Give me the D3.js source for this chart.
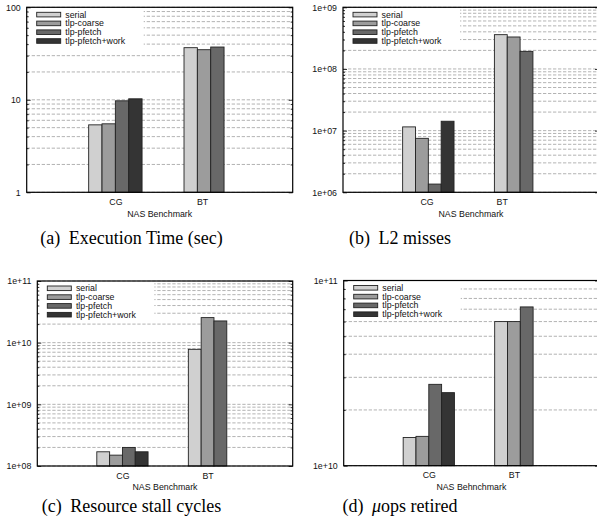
<!DOCTYPE html>
<html>
<head>
<meta charset="utf-8">
<script src="https://cdn.jsdelivr.net/npm/d3@7"></script>
<style>
body{margin:0;background:#fff;}
svg text{font-family:"Liberation Sans",Arial,sans-serif;}
.caption{font-family:"Liberation Serif","Times New Roman",serif;font-size:18px;fill:#000;}
</style>
</head>
<body>
<svg id="fig" width="597" height="531"></svg>
<script>
//categories and series
var benchmarks = ["CG","BT"];
var seriesNames = ["serial","tlp-coarse","tlp-pfetch","tlp-pfetch+work"];

//(a) execution time in seconds, one value per series (BT has no +work run)
var execTimeCG = [5.36, 5.5, 9.75, 10.25];
var execTimeBT = [36.6, 34.8, 37.2, null];
//(b) L2 misses
var l2MissCG = [1.15e7, 7.5e6, 1.36e6, 1.42e7];
var l2MissBT = [3.6e8, 3.3e8, 1.93e8, null];
//(c) resource stall cycles
var stallCG = [1.7e8, 1.5e8, 2.0e8, 1.7e8];
var stallBT = [7.8e9, 2.55e10, 2.25e10, null];
//(d) uops retired
var uopsCG = [1.42e10, 1.44e10, 2.75e10, 2.48e10];
var uopsBT = [6.0e10, 6.0e10, 7.2e10, null];

//y axis ranges and labels
var execDomain = [1, 100];
var l2Domain = [1e6, 1e9];
var stallDomain = [1e8, 1e11];
var uopsDomain = [1e10, 1e11];

var xTitles = ["NAS Benchmark","NAS Benchmark","NAS Benchmark","NAS Behnchmark"];
var captionTags = ["(a)","(b)","(c)","(d)"];
var captionTexts = ["Execution Time (sec)","L2 misses","Resource stall cycles","ops retired"];

var colors = ["#d0d0d0","#9c9c9c","#686868","#343434"];

var svg = d3.select("#fig");
svg.append("rect").attr("width",597).attr("height",531).attr("fill","#fff");

//format a decade tick the gnuplot way
var expFormat = function(d)
{
    var e = Math.round(Math.log10(d));
    return "1e+" + (e < 10 ? "0" + e : e);
}
var plainFormat = function(d)
{
    return d3.format("d")(d);
}

//layout of one panel
//box = plot area, labelPos = where the category names sit (cluster units)
var drawPanel = function(box, yDomain, rows, fmt, labelPos, xTitle)
{
    var bw = 0.14;
    var xScale = d3.scaleLinear()
        .domain([-0.93, 1.86])
        .range([box.left, box.right]);
    var yScale = d3.scaleLog()
        .domain(yDomain)
        .range([box.bottom, box.top]);

    var panel = svg.append("g");

    var allTicks = yScale.ticks();
    var majors = allTicks.filter(function(d){ return Math.abs(Math.log10(d) - Math.round(Math.log10(d))) < 1e-9; });
    var minors = allTicks.filter(function(d){ return majors.indexOf(d) < 0; });

    //dashed grid at every tick
    panel.append("g")
         .selectAll("line")
         .data(allTicks)
         .enter()
         .append("line")
         .attr("x1", box.left)
         .attr("x2", box.right)
         .attr("y1", function(d){ return yScale(d); })
         .attr("y2", function(d){ return yScale(d); })
         .attr("stroke", "#9f9f9f")
         .attr("stroke-width", 0.8)
         .attr("stroke-dasharray", "3.3,1.7");

    //legend box hides the grid behind it
    panel.append("rect")
         .attr("x", box.left + 1)
         .attr("y", box.top + 1)
         .attr("width", 116)
         .attr("height", 38)
         .attr("fill", "#fff");

    //bars
    rows.forEach(function(vals, i)
    {
        panel.append("g")
             .selectAll("rect")
             .data(vals.map(function(v, j){ return {v:v, j:j}; })
                       .filter(function(d){ return d.v != null; }))
             .enter()
             .append("rect")
             .attr("x", function(d){ return xScale(i + (d.j - 2) * bw); })
             .attr("y", function(d){ return yScale(d.v); })
             .attr("width", xScale(bw) - xScale(0))
             .attr("height", function(d){ return box.bottom - yScale(d.v); })
             .attr("fill", function(d){ return colors[d.j]; })
             .attr("stroke", "#222")
             .attr("stroke-width", 0.9);
    });

    //frame
    panel.append("rect")
         .attr("x", box.left)
         .attr("y", box.top)
         .attr("width", box.right - box.left)
         .attr("height", box.bottom - box.top)
         .attr("fill", "none")
         .attr("stroke", "#000")
         .attr("stroke-width", 1.2);

    //left axis: labels and inward ticks
    var yAxis = d3.axisLeft(yScale)
        .tickValues(majors)
        .tickFormat(fmt)
        .tickSize(-4)
        .tickPadding(6);
    var gl = panel.append("g")
         .attr("transform", "translate(" + box.left + ",0)")
         .call(yAxis);
    var yMinor = d3.axisLeft(yScale)
        .tickValues(minors)
        .tickFormat("")
        .tickSize(-2);
    panel.append("g")
         .attr("transform", "translate(" + box.left + ",0)")
         .call(yMinor);

    //mirror ticks on the right
    panel.append("g")
         .attr("transform", "translate(" + box.right + ",0)")
         .call(d3.axisRight(yScale).tickValues(majors).tickFormat("").tickSize(-4));
    panel.append("g")
         .attr("transform", "translate(" + box.right + ",0)")
         .call(d3.axisRight(yScale).tickValues(minors).tickFormat("").tickSize(-2));

    //category names
    var xAxis = d3.axisBottom(xScale)
        .tickValues(labelPos)
        .tickFormat(function(d, i){ return benchmarks[i]; })
        .tickSize(0)
        .tickPadding(6.3);
    panel.append("g")
         .attr("transform", "translate(0," + box.bottom + ")")
         .call(xAxis);

    panel.selectAll(".domain").remove();
    panel.selectAll(".tick line").attr("stroke", "#000").attr("stroke-width", 0.8);
    panel.selectAll(".tick text")
         .attr("font-family", "Liberation Sans, Arial, sans-serif")
         .attr("font-size", 8.8)
         .attr("fill", "#111");

    //x title
    panel.append("text")
         .text(xTitle)
         .attr("text-anchor", "middle")
         .attr("x", (box.left + box.right) / 2)
         .attr("y", box.bottom + 24.3)
         .attr("font-size", 8.8)
         .attr("fill", "#111");

    //legend
    var legend = panel.append("g");
    seriesNames.forEach(function(name, j)
    {
        var cy = box.top + 7.3 + j * 8.8;
        legend.append("rect")
              .attr("x", box.left + 10)
              .attr("y", cy - 2.3)
              .attr("width", 24)
              .attr("height", 4.6)
              .attr("fill", colors[j])
              .attr("stroke", "#222")
              .attr("stroke-width", 0.9);
        legend.append("text")
              .text(name)
              .attr("x", box.left + 38.6)
              .attr("y", cy)
              .attr("dy", "0.35em")
              .attr("font-size", 8.8)
              .attr("fill", "#111");
    });
}

var drawCaption = function(cx, y, tag, text, mu)
{
    var t = svg.append("text")
        .classed("caption", true)
        .attr("x", cx)
        .attr("y", y)
        .attr("text-anchor", "middle");
    t.append("tspan").text(tag);
    if (mu)
    {
        t.append("tspan").attr("dx", 8.5).attr("font-style", "italic").text("\u03bc");
        t.append("tspan").text(text);
    }
    else
    {
        t.append("tspan").attr("dx", 8.5).text(text);
    }
}

drawPanel({left:26.7, right:292.7, top:7.3, bottom:192.3}, execDomain,
          [execTimeCG, execTimeBT], plainFormat, [0, 0.91], xTitles[0]);
drawPanel({left:343, right:599, top:7.3, bottom:192.3}, l2Domain,
          [l2MissCG, l2MissBT], expFormat, [-0.02, 0.8], xTitles[1]);
drawPanel({left:37.3, right:292.7, top:281, bottom:466}, stallDomain,
          [stallCG, stallBT], expFormat, [0, 0.93], xTitles[2]);
drawPanel({left:343.7, right:599, top:280.5, bottom:465.7}, uopsDomain,
          [uopsCG, uopsBT], expFormat, [0, 0.93], xTitles[3]);

drawCaption(131.5, 243.5, captionTags[0], captionTexts[0], false);
drawCaption(400, 243.5, captionTags[1], captionTexts[1], false);
drawCaption(131.5, 511.7, captionTags[2], captionTexts[2], false);
drawCaption(400, 511.7, captionTags[3], captionTexts[3], true);
</script>
</body>
</html>
